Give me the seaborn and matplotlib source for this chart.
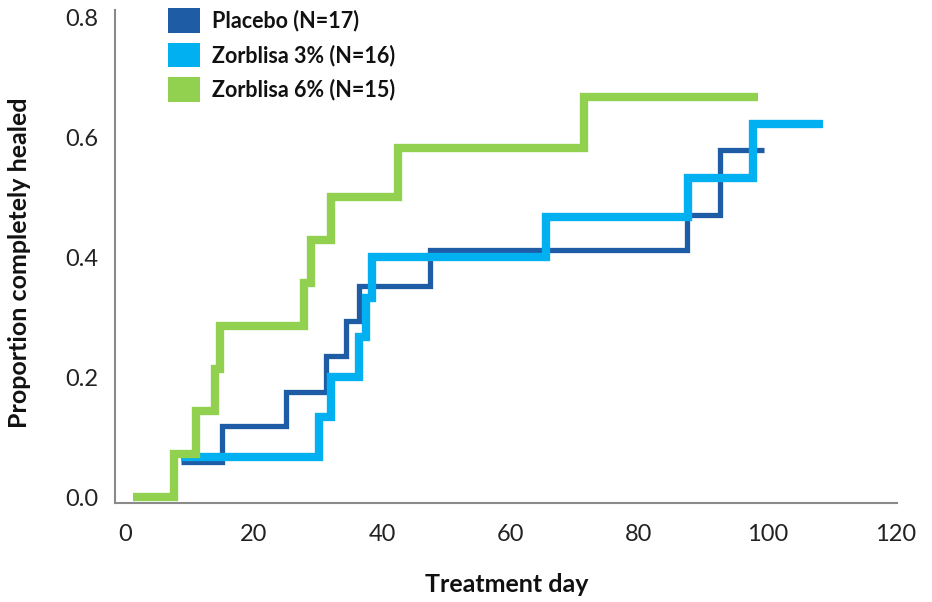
import matplotlib
matplotlib.use("Agg")
import matplotlib.pyplot as plt
from matplotlib.patches import Patch
import seaborn as sns
import pandas as pd

# Data (Kaplan-Meier style step curves)
placebo_days = [8.7, 15.1, 25.0, 31.3, 34.4, 36.4, 47.4, 87.5, 92.7, 99.5]
placebo_prop = [0.059, 0.118, 0.176, 0.235, 0.294, 0.353, 0.412, 0.471, 0.580, 0.580]

z3_days = [8.7, 30.2, 32.0, 36.4, 37.5, 38.4, 65.5, 87.7, 97.8, 108.7]
z3_prop = [0.067, 0.133, 0.200, 0.267, 0.333, 0.400, 0.467, 0.533, 0.622, 0.622]

z6_days = [1.2, 7.6, 11.0, 14.0, 14.8, 27.8, 28.9, 32.0, 42.5, 71.5, 98.6]
z6_prop = [0.000, 0.071, 0.143, 0.214, 0.286, 0.357, 0.429, 0.500, 0.583, 0.667, 0.667]

labels = ["Placebo (N=17)", "Zorblisa 3% (N=16)", "Zorblisa 6% (N=15)"]
colors = ["#1F5CA6", "#00B0F0", "#92D050"]
widths = [3.8, 6.0, 6.0]

xticks = [0, 20, 40, 60, 80, 100, 120]
yticks = [0.0, 0.2, 0.4, 0.6, 0.8]

sns.set_theme(style="white")
plt.rcParams["font.family"] = ["Lato", "DejaVu Sans"]

df = pd.concat([
    pd.DataFrame({"day": placebo_days, "prop": placebo_prop, "group": labels[0]}),
    pd.DataFrame({"day": z3_days, "prop": z3_prop, "group": labels[1]}),
    pd.DataFrame({"day": z6_days, "prop": z6_prop, "group": labels[2]}),
], ignore_index=True)

fig = plt.figure(figsize=(9.32, 6.02), dpi=100)
ax = fig.add_axes([115 / 932, 1 - 503 / 602, 782 / 932, 493 / 602])

for lab, col, lw in zip(labels, colors, widths):
    sub = df[df["group"] == lab]
    sns.lineplot(data=sub, x="day", y="prop", ax=ax, color=col, linewidth=lw,
                 drawstyle="steps-post", errorbar=None, estimator=None,
                 solid_capstyle="butt", solid_joinstyle="miter", legend=False)

ax.set_xlim(-1.6, 120.2)
ax.set_ylim(-0.01, 0.813)
ax.set_xticks(xticks)
ax.set_xticklabels([str(t) for t in xticks])
ax.set_yticks(yticks)
ax.set_yticklabels([f"{t:.1f}" for t in yticks])
ax.tick_params(axis="both", length=0, colors="#222222", labelsize=17)
ax.tick_params(axis="x", pad=15)
ax.tick_params(axis="y", pad=12)

for s in ["top", "right"]:
    ax.spines[s].set_visible(False)
for s in ["left", "bottom"]:
    ax.spines[s].set_color("#8a8a8a")
    ax.spines[s].set_linewidth(1.5)

ax.set_xlabel("Treatment day", fontsize=18, fontweight="bold", color="#111111")
ax.set_ylabel("Proportion completely healed", fontsize=18, fontweight="bold", color="#111111")
ax.xaxis.label.set_va("center")
ax.yaxis.label.set_va("center")
ax.xaxis.set_label_coords(0.501, (503 - 585) / 493)
ax.yaxis.set_label_coords((20 - 115) / 782, (503 - 263) / 493)

handles = [Patch(facecolor=c, edgecolor="none") for c in colors]
leg = ax.legend(handles, labels, loc="upper left",
                bbox_to_anchor=(168 / 932, 1 - 8 / 602), bbox_transform=fig.transFigure,
                frameon=False, borderpad=0, borderaxespad=0,
                handlelength=1.5, handleheight=1.4, handletextpad=0.55,
                labelspacing=0.45, prop={"size": 15.5, "weight": "bold"})
for t in leg.get_texts():
    t.set_color("#111111")

fig.savefig("out.png", dpi=100)
